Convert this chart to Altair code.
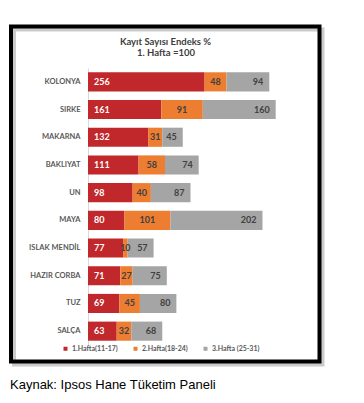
import altair as alt
import pandas as pd

categories = ["KOLONYA", "SIRKE", "MAKARNA", "BAKLIYAT", "UN", "MAYA",
              "ISLAK MENDİL", "HAZIR CORBA", "TUZ", "SALÇA"]
week1 = [256, 161, 132, 111, 98, 80, 77, 71, 69, 63]
week2 = [48, 91, 31, 58, 40, 101, 10, 27, 45, 32]
week3 = [94, 160, 45, 74, 87, 202, 57, 75, 80, 68]
series = ["1.Hafta(11-17)", "2.Hafta(18-24)", "3.Hafta (25-31)"]
colors = ["#C0282B", "#ED7D31", "#A5A5A5"]
title_lines = ["Kayıt Sayısı Endeks %", "1. Hafta =100"]
caption = "Kaynak: Ipsos Hane Tüketim Paneli"

rows = []
for i, cat in enumerate(categories):
    vals = [week1[i], week2[i], week3[i]]
    start = 0
    for j, v in enumerate(vals):
        rows.append({"category": cat, "series": series[j], "order": j, "value": v,
                     "start": start, "end": start + v, "mid": start + v / 2})
        start += v
df = pd.DataFrame(rows)

FONT = "Lato"
yenc = alt.Y("category:N", sort=categories,
             scale=alt.Scale(paddingInner=0.31, paddingOuter=0.155),
             axis=alt.Axis(title=None, ticks=False, labelPadding=8, domainColor="#D9D9D9",
                           labelFontSize=7.5, labelColor="#595959", labelFont=FONT,
                           labelFontWeight="bold", grid=False))
xscale = alt.Scale(domain=[0, 450])

bars = alt.Chart(df).mark_bar().encode(
    y=yenc,
    x=alt.X("start:Q", scale=xscale, axis=None),
    x2="end:Q",
    color=alt.Color("series:N", scale=alt.Scale(domain=series, range=colors),
                    legend=alt.Legend(title=None, orient="none", legendX=-26, legendY=277,
                                      direction="horizontal", symbolType="square",
                                      symbolSize=16, symbolStrokeWidth=0,
                                      labelFontSize=7, labelColor="#595959", labelFont=FONT,
                                      labelFontWeight="bold", columnPadding=14, labelOffset=3)),
)

t1 = alt.Chart(df).transform_filter(alt.datum.order == 0).mark_text(
    align="left", dx=6, font=FONT, fontSize=9, fontWeight="bold", color="white"
).encode(y=yenc, x=alt.X("start:Q", scale=xscale), text="value:Q")
t2 = alt.Chart(df).transform_filter(alt.datum.order == 1).mark_text(
    align="center", font=FONT, fontSize=9, fontWeight="bold", color="#404040"
).encode(y=yenc, x=alt.X("mid:Q", scale=xscale), text="value:Q")
t3 = alt.Chart(df).transform_filter(alt.datum.order == 2).mark_text(
    align="right", dx=-6, font=FONT, fontSize=9, fontWeight="bold", color="#404040"
).encode(y=yenc, x=alt.X("end:Q", scale=xscale), text="value:Q")

one = pd.DataFrame({"a": [0]})
shadow = alt.Chart(one).mark_rect(fillOpacity=0, stroke="#999999", strokeWidth=4, opacity=0.5).encode(
    x=alt.value(-74), x2=alt.value(234.5), y=alt.value(-38.5), y2=alt.value(296.5))
frame = alt.Chart(one).mark_rect(fillOpacity=0, stroke="black", strokeWidth=4).encode(
    x=alt.value(-77), x2=alt.value(231.5), y=alt.value(-41.5), y2=alt.value(293.5))

title1 = alt.Chart(one).mark_text(font=FONT, fontSize=9.5, fontWeight="bold", color="#404040").encode(
    x=alt.value(77.5), y=alt.value(-26), text=alt.value(title_lines[0]))
title2 = alt.Chart(one).mark_text(font=FONT, fontSize=9.5, fontWeight="bold", color="#404040").encode(
    x=alt.value(78), y=alt.value(-15), text=alt.value(title_lines[1]))
cap = alt.Chart(one).mark_text(font="Liberation Sans", fontSize=13, color="black", align="left").encode(
    x=alt.value(-78), y=alt.value(317), text=alt.value(caption))

chart = alt.layer(shadow, frame, bars, t1, t2, t3, title1, title2, cap).properties(
    width=205, height=277, autosize="none",
    padding={"left": 80, "top": 60, "right": 63, "bottom": 50},
    background="white",
).configure_view(stroke=None)

chart.save("out.html", embed_options={"renderer": "svg", "actions": False})
